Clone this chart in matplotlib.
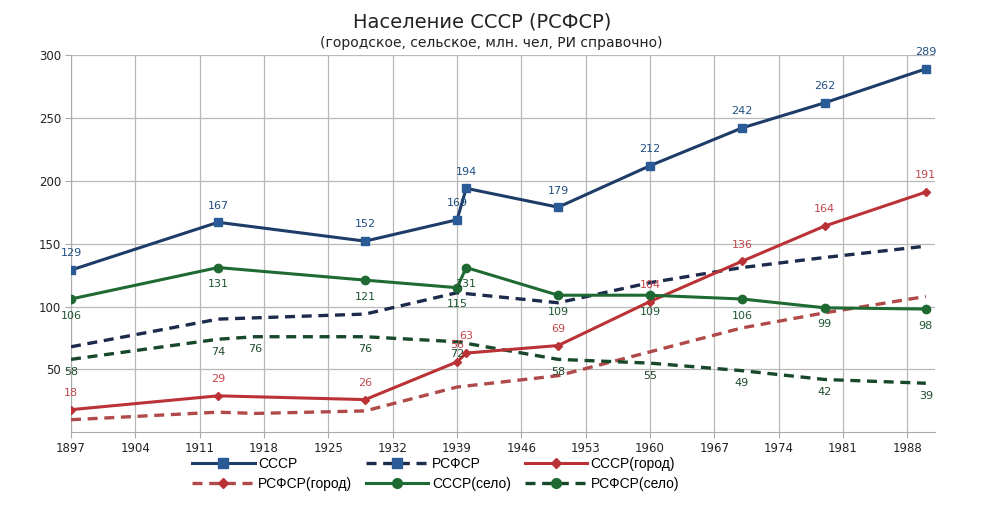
#!/usr/bin/env python3

import matplotlib
matplotlib.use('Agg')
import matplotlib.pyplot as plt
from matplotlib.lines import Line2D

# data (million people)
years_su = [1897, 1913, 1929, 1939, 1940, 1950, 1960, 1970, 1979, 1990]
su_total = [129, 167, 152, 169, 194, 179, 212, 242, 262, 289]
su_urban = [18, 29, 26, 56, 63, 69, 104, 136, 164, 191]
su_rural = [106, 131, 121, 115, 131, 109, 109, 106, 99, 98]

years_ru = [1897, 1913, 1917, 1929, 1939, 1950, 1960, 1970, 1979, 1990]
ru_total = [68, 90, 91, 94, 111, 103, 119, 131, 139, 148]
ru_urban = [10, 16, 15, 17, 36, 45, 64, 83, 95, 108]
ru_rural = [58, 74, 76, 76, 72, 58, 55, 49, 42, 39]

x_ticks = list(range(1897, 1989, 7))
y_ticks = [50, 100, 150, 200, 250, 300]

title = 'Население СССР (РСФСР)'
subtitle = '(городское, сельское, млн. чел, РИ справочно)'

plt.rcParams['font.family'] = ['DejaVu Sans']

fig = plt.figure(figsize=(10, 5.24), dpi=100)
ax = fig.add_axes([0.071, 0.175, 0.864, 0.72])

c_blue = '#1d3c68'
c_blue_m = '#2a5b97'
c_blue_d = '#1c2b4c'
c_red = '#bb3236'
c_red_d = '#b04a4a'
c_green = '#1f6a32'
c_green_d = '#18482a'
dash = (0, (3, 2))

ax.plot(years_ru, ru_total, color=c_blue_d, lw=2.4, ls=dash, zorder=3)
ax.plot(years_ru, ru_urban, color=c_red_d, lw=2.4, ls=dash, zorder=3)
ax.plot(years_ru, ru_rural, color=c_green_d, lw=2.4, ls=dash, zorder=3)

ax.plot(years_su, su_total, color=c_blue, lw=2.2, marker='s', ms=6,
        mfc=c_blue_m, mec=c_blue_m, zorder=4)
ax.plot(years_su, su_urban, color=c_red, lw=2.2, marker='D', ms=4.5,
        mfc=c_red, mec=c_red, zorder=4)
ax.plot(years_su, su_rural, color=c_green, lw=2.2, marker='o', ms=6,
        mfc=c_green, mec=c_green, zorder=4)

# value labels
for x, y in zip(years_su, su_total):
    ax.annotate(str(y), (x, y), xytext=(0, 12), textcoords='offset points',
                ha='center', va='center', fontsize=8, color='#1f4f80', zorder=5)
for x, y in zip(years_su, su_urban):
    ax.annotate(str(y), (x, y), xytext=(0, 12), textcoords='offset points',
                ha='center', va='center', fontsize=8, color='#c0484c', zorder=5)
for x, y in zip(years_su, su_rural):
    ax.annotate(str(y), (x, y), xytext=(0, -12), textcoords='offset points',
                ha='center', va='center', fontsize=8, color='#1e5631', zorder=5)
for x, y in zip(years_ru, ru_rural):
    ax.annotate(str(y), (x, y), xytext=(0, -9), textcoords='offset points',
                ha='center', va='center', fontsize=8, color='#1e4a2c', zorder=5)

ax.set_xlim(1897, 1991)
ax.set_ylim(0, 300)
ax.set_xticks(x_ticks)
ax.set_yticks(y_ticks)
ax.tick_params(axis='both', labelsize=8.5, colors='#222222', length=4,
               color='#aaaaaa', pad=3)
ax.grid(True, color='#b8b8b8', lw=0.9, zorder=0)
ax.set_axisbelow(True)
for s in ['top', 'right']:
    ax.spines[s].set_visible(False)
for s in ['left', 'bottom']:
    ax.spines[s].set_color('#aaaaaa')

fig.text(0.482, 0.958, title, ha='center', va='center', fontsize=14,
         color='#222222')
fig.text(0.491, 0.918, subtitle, ha='center', va='center', fontsize=10,
         color='#222222')

# legend, filled row by row
h_su = Line2D([], [], color=c_blue, lw=2.2, marker='s', ms=7, mfc=c_blue_m, mec=c_blue_m)
h_ru = Line2D([], [], color=c_blue_d, lw=2.4, ls=dash, marker='s', ms=7, mfc=c_blue_m, mec=c_blue_m)
h_suu = Line2D([], [], color=c_red, lw=2.2, marker='D', ms=5.5, mfc=c_red, mec=c_red)
h_ruu = Line2D([], [], color=c_red_d, lw=2.4, ls=dash, marker='D', ms=5.5, mfc=c_red, mec=c_red)
h_sur = Line2D([], [], color=c_green, lw=2.2, marker='o', ms=7, mfc=c_green, mec=c_green)
h_rur = Line2D([], [], color=c_green_d, lw=2.4, ls=dash, marker='o', ms=7, mfc=c_green, mec=c_green)
handles = [h_su, h_ruu, h_ru, h_sur, h_suu, h_rur]
labels = ['СССР', 'РСФСР(город)', 'РСФСР', 'СССР(село)', 'СССР(город)', 'РСФСР(село)']
fig.legend(handles, labels, ncol=3, loc='upper left', bbox_to_anchor=(0.192, 0.128),
           frameon=False, prop={'family': 'Liberation Sans', 'size': 10},
           handlelength=4.5, handletextpad=0.25,
           columnspacing=1.0, labelspacing=0.45, borderaxespad=0, borderpad=0)

plt.savefig('out.png', dpi=100)
plt.close()
